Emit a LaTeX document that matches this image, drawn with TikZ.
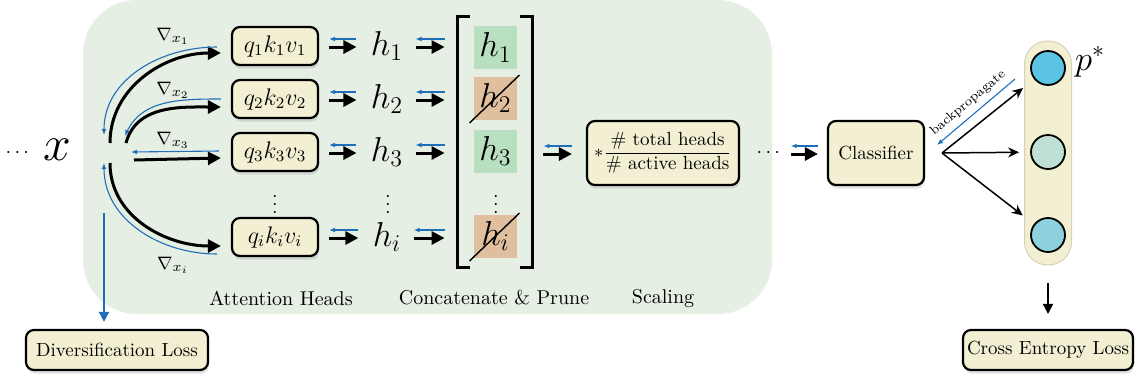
\documentclass[tikz,border=0pt]{standalone}
\usepackage{amsmath}
\usetikzlibrary{arrows.meta, shadows, calc}

\definecolor{bggreen}{HTML}{E6EFE3}
\definecolor{boxcream}{HTML}{F3EFD2}
\definecolor{keepgreen}{HTML}{B8E0C0}
\definecolor{prunetan}{HTML}{E0BF9E}
\definecolor{gradblue}{HTML}{1F6FB8}
\definecolor{pcyan}{HTML}{5BC4E2}
\definecolor{ppale}{HTML}{BFE0D6}
\definecolor{pmid}{HTML}{8ED0DC}

\tikzset{
    block/.style={draw, line width=1.1pt, rounded corners=4pt, fill=boxcream, inner sep=0pt,
        drop shadow={opacity=0.22, shadow xshift=0.5pt, shadow yshift=-1.8pt},
        font=\fontsize{9.5}{11}\selectfont},
    head/.style={block, minimum width=43pt, minimum height=19pt, font=\fontsize{12}{14}\selectfont},
    hterm/.style={inner sep=0pt, font=\fontsize{18}{20}\selectfont},
    cell/.style={hterm, minimum width=21.5pt, minimum height=21.5pt},
    grad/.style={inner sep=0pt, font=\fontsize{9.5}{11}\selectfont},
    lab/.style={inner sep=0pt, font=\fontsize{10}{12}\selectfont},
    fwd/.style={line width=1.5pt, -{Triangle[length=6.5pt, width=6.5pt]}},
    bwd/.style={gradblue, line width=0.55pt, -{Latex[length=3pt, width=2.4pt]}},
    fanline/.style={line width=0.75pt, -{Stealth[length=5.5pt, width=5pt]}},
}

% forward arrow below, gradient arrow above
\newcommand{\passon}[4]{%
    \draw [fwd, shorten <=#3, shorten >=#4] ($(#1)+(0,1)$) -- ($(#2)+(0,1)$);
    \draw [bwd, shorten <=#4, shorten >=#3] ($(#2)+(0,-7)$) -- ($(#1)+(0,-7)$);
}

\begin{document}
\begin{tikzpicture}[x=0.5pt, y=-0.5pt]
    \useasboundingbox (0,0) rectangle (1138,381);
    \fill [bggreen, rounded corners=27pt] (83,0) rectangle (772,314);

    % input
    \node (dots) at (19,153) {$\cdots$};
    \node [font=\fontsize{30}{32}\selectfont] (x) at (57,150) {$x$};
    \coordinate (o1) at (110,143);
    \coordinate (o2) at (126,143);
    \coordinate (o3) at (134,160);
    \coordinate (o4) at (110,163);
    \coordinate (g1) at (104,135);
    \coordinate (g2) at (125,136);
    \coordinate (g3) at (131,152);
    \coordinate (g4) at (104,163);
    \coordinate (gd) at (104,213);

    % attention heads
    \node [head] (q1) at (275,46) {$q_1k_1v_1$};
    \node [head] (q2) at (275,99) {$q_2k_2v_2$};
    \node [head] (q3) at (275,152) {$q_3k_3v_3$};
    \node (qdots) at (275,198) {$\vdots$};
    \node [head] (qi) at (275,237) {$q_ik_iv_i$};

    \draw [fwd] (o1) to [out=90, in=180] ([xshift=-5pt, yshift=-3.5pt]q1.west);
    \draw [fwd] (o2) to [out=75, in=180] ([xshift=-5pt, yshift=-4pt]q2.west);
    \draw [fwd] (o3) -- ([xshift=-5pt, yshift=-3pt]q3.west);
    \draw [fwd] (o4) to [out=-90, in=180] ([xshift=-5pt, yshift=-4.5pt]qi.west);

    \draw [bwd] ([xshift=-7pt, yshift=-0.5pt]q1.west) to [out=180, in=90] (g1);
    \draw [bwd] ([xshift=-5pt]q2.west) to [out=180, in=65] (g2);
    \draw [bwd] ([xshift=-6pt, yshift=0.5pt]q3.west) -- (g3);
    \draw [bwd] ([xshift=-7pt, yshift=-8.5pt]qi.west) to [out=180, in=-90] (g4);

    \node [grad] (n1) at (173,36) {$\nabla_{x_1}$};
    \node [grad] (n2) at (173,90) {$\nabla_{x_2}$};
    \node [grad] (n3) at (173,140) {$\nabla_{x_3}$};
    \node [grad] (ni) at (173,265) {$\nabla_{x_i}$};

    \node [block, minimum width=91pt, minimum height=20pt] (div) at (117,350) {Diversification Loss};
    \draw [gradblue, line width=0.9pt, -{Triangle[length=5pt, width=5pt]}, shorten >=3.5pt] (gd) -- (gd |- div.north);

    % head outputs
    \node [hterm] (h1) at (387,46) {$h_1$};
    \node [hterm] (h2) at (387,99) {$h_2$};
    \node [hterm] (h3) at (387,152) {$h_3$};
    \node (hdots) at (388,198) {$\vdots$};
    \node [hterm] (hi) at (387,237) {$h_i$};

    \passon{q1.east}{q1.east -| h1.west}{5pt}{7pt}
    \passon{q2.east}{q2.east -| h2.west}{5pt}{7pt}
    \passon{q3.east}{q3.east -| h3.west}{5pt}{7pt}
    \passon{qi.east}{qi.east -| hi.west}{5pt}{7pt}

    % concatenate and prune
    \node [inner sep=0pt, minimum width=37pt, minimum height=125pt] (col) at (495,142) {};
    \draw [line width=1.5pt] ($(col.north west)+(12,0)$) -- (col.north west) -- (col.south west) -- ++(12,0);
    \draw [line width=1.5pt] ($(col.north east)+(-12,0)$) -- (col.north east) -- (col.south east) -- ++(-12,0);

    \node [cell, fill=keepgreen] (c1) at (495.5,47.5) {$h_1$};
    \node [cell, fill=prunetan] (c2) at (495.5,98) {$h_2$};
    \node [cell, fill=keepgreen] (c3) at (495.5,151) {$h_3$};
    \node (cdots) at (496,198) {$\vdots$};
    \node [cell, fill=prunetan] (ci) at (495.5,236) {$h_i$};
    \draw [line width=0.7pt] ($(c2.south west)+(-4,3)$) -- ($(c2.north east)+(2,-1)$);
    \draw [line width=0.7pt] ($(ci.south west)+(-4,3)$) -- ($(ci.north east)+(2,-1)$);

    \passon{h1.east}{h1.east -| col.west}{6pt}{6.5pt}
    \passon{h2.east}{h2.east -| col.west}{6pt}{6.5pt}
    \passon{h3.east}{h3.east -| col.west}{6pt}{6.5pt}
    \passon{hi.east}{hi.east -| col.west}{6pt}{6.5pt}

    % scaling
    \node [block, minimum width=76pt, minimum height=32pt] (scale) at (663,153)
        {$*\dfrac{\text{\# total heads}}{\text{\# active heads}}$};
    \passon{col.east |- scale}{scale.west}{5.5pt}{7pt}

    \node [lab] (lh) at (281,298) {Attention Heads};
    \node [lab] (lc) at (494,298) {Concatenate \& Prune};
    \node [lab] (ls) at (663,298) {Scaling};

    % classifier
    \node [inner sep=0pt] (more) at (770,153) {$\cdots$};
    \node [block, minimum width=48pt, minimum height=32pt] (cls) at (876,153) {Classifier};
    \passon{more.east}{more.east -| cls.west}{3.5pt}{4.5pt}

    \node [rounded corners=11.5pt, fill=boxcream, draw=boxcream!88!black, line width=0.5pt,
        minimum width=23.5pt, minimum height=112pt] (outs) at (1048,153) {};
    \node [circle, draw, line width=0.9pt, fill=pcyan, minimum size=17pt, inner sep=0pt] (p1) at (1048,68) {};
    \node [circle, draw, line width=0.9pt, fill=ppale, minimum size=17pt, inner sep=0pt] (p2) at (1048,152) {};
    \node [circle, draw, line width=0.9pt, fill=pmid, minimum size=17pt, inner sep=0pt] (p3) at (1048,235) {};
    \node [font=\fontsize{18}{20}\selectfont] (pstar) at (1090,62) {$p^*$};

    \coordinate (fan) at (942,153);
    \draw [fanline, shorten >=7pt] (fan) -- (p1);
    \draw [fanline, shorten >=5.5pt] (fan) -- (p2);
    \draw [fanline, shorten >=7pt] (fan) -- (p3);

    \coordinate (bp0) at (1015,79);
    \coordinate (bp1) at (937,145);
    \draw [bwd] (bp0) -- (bp1);
    \node [rotate=40, inner sep=0pt, font=\fontsize{6.5}{7}\selectfont] (bplab) at (968,103) {backpropagate};

    \node [block, minimum width=85pt, minimum height=20pt] (ce) at (1048,350) {Cross Entropy Loss};
    \draw [line width=0.9pt, -{Triangle[length=5pt, width=5pt]}, shorten <=8.5pt, shorten >=7.5pt] (outs.south) -- (ce.north);
\end{tikzpicture}
\end{document}
